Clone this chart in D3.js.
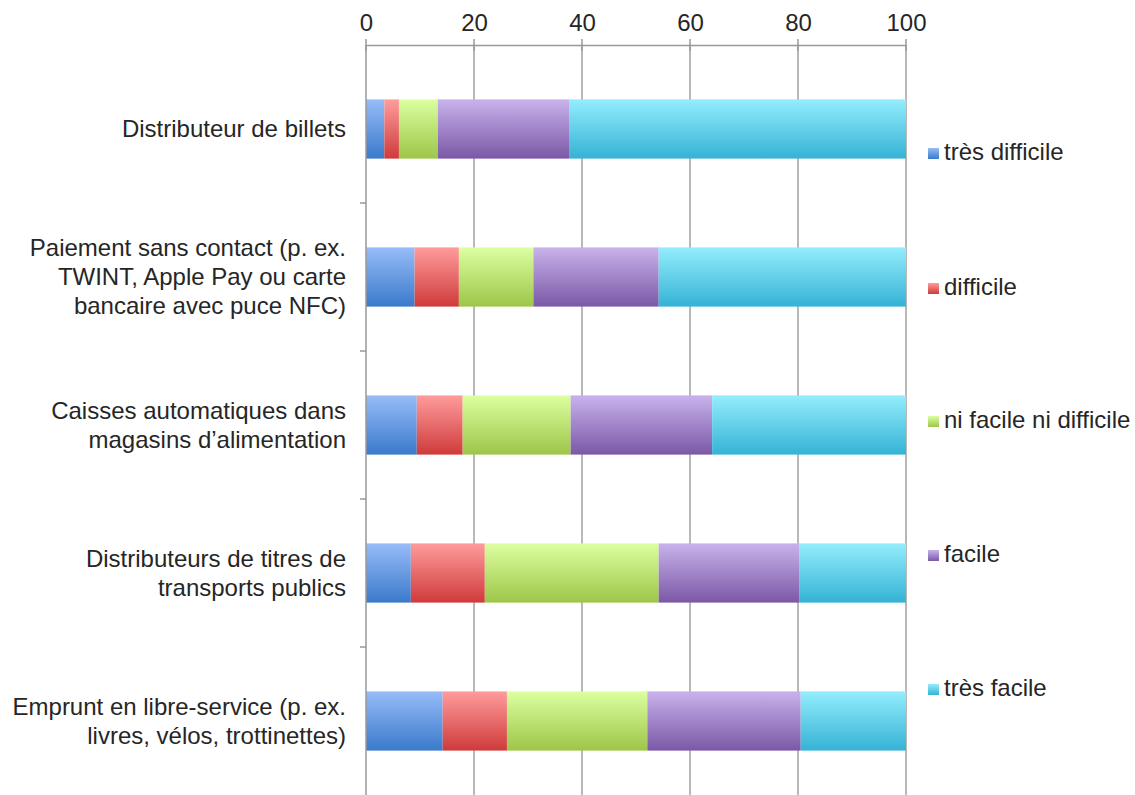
<!DOCTYPE html>
<html lang="fr">
<head>
<meta charset="utf-8">
<script src="https://d3js.org/d3.v7.min.js"></script>
<style>
  body { margin: 0; background: #fff; }
  svg { font-family: "Liberation Sans", Arial, sans-serif; }
</style>
</head>
<body>
<div id="chart"></div>
<script>
// categories (top to bottom), labels split into lines
var categories = [
  ["Distributeur de billets"],
  ["Paiement sans contact (p. ex.", "TWINT, Apple Pay ou carte", "bancaire avec puce NFC)"],
  ["Caisses automatiques dans", "magasins d\u2019alimentation"],
  ["Distributeurs de titres de", "transports publics"],
  ["Emprunt en libre-service (p. ex.", "livres, vélos, trottinettes)"]
];
var seriesNames = ["très difficile", "difficile", "ni facile ni difficile", "facile", "très facile"];

// share in %, one array per answer
var tresDifficile = [3.4, 9.0, 9.4, 8.3, 14.2];
var difficile     = [2.7, 8.2, 8.5, 13.7, 11.9];
var niFacile      = [7.2, 13.8, 20.0, 32.2, 26.0];
var facile        = [24.3, 23.2, 26.2, 26.1, 28.4];
var tresFacile    = [62.4, 45.8, 35.9, 19.7, 19.5];

var xTicks = [0, 20, 40, 60, 80, 100];

var gradTop = ["#97bcf8", "#ff9c9c", "#dcffa0", "#c8b2ec", "#94edfd"];
var gradBot = ["#3a7acb", "#cf3a3a", "#9dc648", "#7b58a6", "#35b2d5"];

var seriesValues = [tresDifficile, difficile, niFacile, facile, tresFacile];
var rows = categories.map(function(c, i) {
  var r = { idx: i };
  seriesNames.forEach(function(s, j) { r[s] = seriesValues[j][i]; });
  return r;
});

var width = 1135, height = 795;
var plotLeft = 366, plotRight = 906, plotTop = 55, plotBottom = 795;
var fs = 24, txt = "#262626";

var svg = d3.select("#chart").append("svg")
  .attr("width", width).attr("height", height);

var defs = svg.append("defs");
seriesNames.forEach(function(s, j) {
  var g = defs.append("linearGradient").attr("id", "g" + j)
    .attr("x1", 0).attr("y1", 0).attr("x2", 0).attr("y2", 1);
  g.append("stop").attr("offset", "0%").attr("stop-color", gradTop[j]);
  g.append("stop").attr("offset", "100%").attr("stop-color", gradBot[j]);
});

var x = d3.scaleLinear().domain([0, 100]).range([plotLeft, plotRight]);
var y = d3.scaleBand().domain(d3.range(categories.length))
  .range([plotTop, plotBottom]).paddingInner(0.6).paddingOuter(0.3);

// gridlines
svg.append("g").selectAll("line").data(xTicks.slice(1)).enter().append("line")
  .attr("x1", function(d) { return x(d); }).attr("x2", function(d) { return x(d); })
  .attr("y1", 45).attr("y2", plotBottom)
  .attr("stroke", "#a0a0a0").attr("stroke-width", 1.5);

var stack = d3.stack().keys(seriesNames)(rows);

svg.append("g").selectAll("g").data(stack).enter().append("g")
  .attr("fill", function(d, j) { return "url(#g" + j + ")"; })
  .selectAll("rect").data(function(d) { return d; }).enter().append("rect")
  .attr("x", function(d) { return x(d[0]); })
  .attr("width", function(d) { return x(d[1]) - x(d[0]); })
  .attr("y", function(d) { return y(d.data.idx); })
  .attr("height", y.bandwidth());

// top axis
var xAxis = svg.append("g").attr("transform", "translate(0,45)")
  .call(d3.axisTop(x).tickValues(xTicks).tickSize(0).tickPadding(14));
xAxis.select(".domain").attr("stroke", "#999").attr("stroke-width", 1.5);
xAxis.selectAll("text").attr("font-size", fs).attr("fill", txt)
  .attr("font-family", "Liberation Sans, Arial, sans-serif");
svg.append("g").selectAll("line").data(xTicks).enter().append("line")
  .attr("x1", function(d) { return x(d); }).attr("x2", function(d) { return x(d); })
  .attr("y1", 39).attr("y2", 51).attr("stroke", "#999").attr("stroke-width", 1.5);

// left axis
var step = (plotBottom - plotTop) / categories.length;
svg.append("line").attr("x1", plotLeft).attr("x2", plotLeft).attr("y1", 45).attr("y2", plotBottom)
  .attr("stroke", "#999").attr("stroke-width", 1.5);
svg.append("g").selectAll("line").data(d3.range(1, categories.length)).enter().append("line")
  .attr("x1", plotLeft - 6).attr("x2", plotLeft)
  .attr("y1", function(d) { return plotTop + d * step; }).attr("y2", function(d) { return plotTop + d * step; })
  .attr("stroke", "#999").attr("stroke-width", 1.5);

// category labels
var lineH = 29;
svg.append("g").selectAll("text").data(categories).enter().append("text")
  .attr("text-anchor", "end").attr("font-size", fs).attr("fill", txt)
  .each(function(lines, i) {
    var cy = y(i) + y.bandwidth() / 2;
    var y0 = cy - (lines.length - 1) * lineH / 2 + 8;
    d3.select(this).selectAll("tspan").data(lines).enter().append("tspan")
      .attr("x", 346).attr("y", function(d, k) { return y0 + k * lineH; })
      .text(function(d) { return d; });
  });

// legend
var legY = [152, 287, 420, 554, 688];
var leg = svg.append("g").selectAll("g").data(seriesNames).enter().append("g")
  .attr("transform", function(d, j) { return "translate(928," + legY[j] + ")"; });
leg.append("rect").attr("x", 0).attr("y", -4).attr("width", 11).attr("height", 11)
  .attr("fill", function(d, j) { return "url(#g" + j + ")"; });
leg.append("text").attr("x", 16).attr("y", 8).attr("font-size", fs).attr("fill", txt)
  .text(function(d) { return d; });
</script>
</body>
</html>
